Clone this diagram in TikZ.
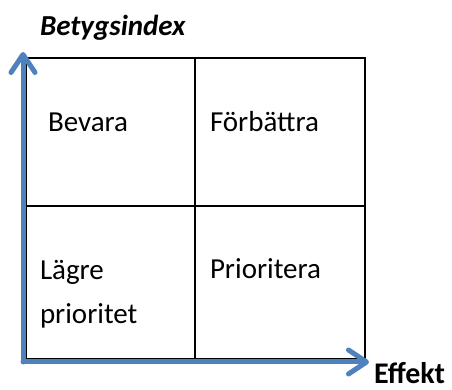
\documentclass[tikz,border=0pt]{standalone}
\usepackage{fontspec}
\setmainfont{Carlito}
\usetikzlibrary{arrows.meta}

\begin{document}
\begin{tikzpicture}[x=1pt,y=1pt]
\definecolor{axisColor}{RGB}{79,129,189}
\definecolor{drawColor}{RGB}{0,0,0}
\tikzset{
  cell/.style={text=drawColor,anchor=base west,inner sep=0pt,outer sep=0pt,font=\fontsize{29}{44}\selectfont,align=left},
  axislabel/.style={text=drawColor,anchor=base west,inner sep=0pt,outer sep=0pt,font=\fontsize{29}{35}\selectfont\bfseries},
  axis/.style={draw=axisColor,line width=5pt,line cap=round,-{Straight Barb[length=18pt,width=24pt,round]}}
}
\path[use as bounding box,fill=white] (0,0) rectangle (452,390);

% grid
\path[draw=drawColor,line width=1.6pt] ( 26.00, 31.00) rectangle (365.00,332.00);
\path[draw=drawColor,line width=1.6pt] (195.00, 31.00) -- (195.00,332.00);
\path[draw=drawColor,line width=1.6pt] ( 26.00,184.00) -- (365.00,184.00);

% quadrant texts
\node[cell] (bevara) at ( 48.00,258.00) {Bevara};
\node[cell] (forbattra) at (210.00,258.00) {Förbättra};
\node[cell] (lagre) at ( 40.00, 66.00) {Lägre\\prioritet};
\node[cell] (prioritera) at (210.00,111.00) {Prioritera};

% axes
\coordinate (origin) at ( 23.00, 28.00);
\coordinate (ytip) at ( 23.00,338.00);
\coordinate (xtip) at (369.00, 28.00);
\draw[axis] (origin) -- (ytip);
\draw[axis] (origin) -- (xtip);

\node[axislabel,font=\fontsize{29}{35}\selectfont\bfseries\itshape] (betyg) at ( 40.00,354.00) {Betygsindex};
\node[axislabel,font=\fontsize{30}{36}\selectfont\bfseries] (effekt) at (374.00,  6.00) {Effekt};
\end{tikzpicture}
\end{document}
